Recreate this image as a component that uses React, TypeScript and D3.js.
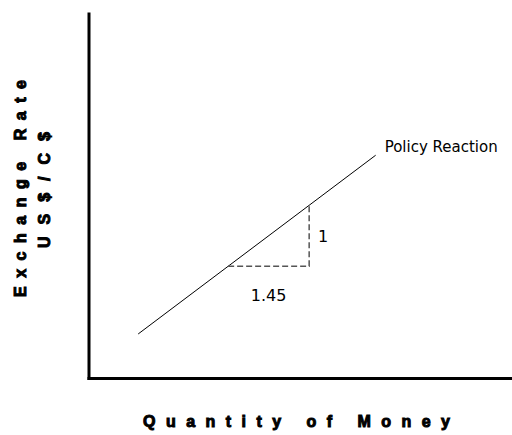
import React from "react";
import * as d3 from "d3";

// Data (in model units: slope of policy reaction = 1 / 1.45)
const xDomain = [0, 7.57];
const yDomain = [0, 6];
const policyX = [0.88, 5.13];
const policyY = [0.73, 3.66];
const triX = [2.49, 3.94]; // run of 1.45
const triY = [1.84, 2.84]; // rise of 1
const runLabel = "1.45";
const riseLabel = "1";
const lineLabel = "Policy Reaction";
const xTitle = "Quantity of Money";
const yTitle1 = "Exchange Rate";
const yTitle2 = "US$/C$";

const W = 512;
const H = 435;

export default function App() {
  const x = d3.scaleLinear().domain(xDomain).range([89, 512]);
  const y = d3.scaleLinear().domain(yDomain).range([378.5, 12.5]);
  const line = d3
    .line<[number, number]>()
    .x((d) => x(d[0]))
    .y((d) => y(d[1]));
  const policyPts: [number, number][] = policyX.map((v, i) => [v, policyY[i]]);
  const triPts: [number, number][] = [
    [triX[0], triY[0]],
    [triX[1], triY[0]],
    [triX[1], triY[1]],
  ];
  const [x0, x1] = x.range();
  const [y0, y1] = y.range();
  const sans = "'DejaVu Sans', sans-serif";
  const bold = "'Liberation Sans', Arial, sans-serif";
  const titleProps = {
    fontFamily: bold,
    fontWeight: "bold" as const,
    fontSize: 16,
    fill: "#000",
    stroke: "#000",
    strokeWidth: 1,
    lengthAdjust: "spacing",
  };
  return (
    <svg
      width={W}
      height={H}
      style={{ position: "absolute", left: 0, top: 0, background: "#fff" }}
    >
      {/* axes */}
      <line x1={x0} y1={y1} x2={x0} y2={y0 + 1.5} stroke="#000" strokeWidth={3} />
      <line x1={x0 - 1.5} y1={y0} x2={x1} y2={y0} stroke="#000" strokeWidth={3} />
      {/* policy reaction line */}
      <path d={line(policyPts) || ""} fill="none" stroke="#000" strokeWidth={1} />
      {/* slope triangle */}
      <path
        d={line(triPts) || ""}
        fill="none"
        stroke="#555"
        strokeWidth={1.5}
        strokeDasharray="6,3"
      />
      <text
        x={x(policyX[1]) + 9}
        y={y(policyY[1]) - 3}
        fontFamily={sans}
        fontSize={15}
        fill="#000"
      >
        {lineLabel}
      </text>
      <text
        x={(x(triX[0]) + x(triX[1])) / 2}
        y={y(triY[0]) + 35}
        fontFamily={sans}
        fontSize={16}
        textAnchor="middle"
        fill="#000"
      >
        {runLabel}
      </text>
      <text
        x={x(triX[1]) + 14}
        y={(y(triY[0]) + y(triY[1])) / 2 + 6}
        fontFamily={sans}
        fontSize={16}
        textAnchor="middle"
        fill="#000"
      >
        {riseLabel}
      </text>
      {/* axis titles */}
      <text x={143} y={427} textLength={307} {...titleProps}>
        {xTitle}
      </text>
      <text
        transform="translate(26,297) rotate(-90)"
        textLength={217}
        {...titleProps}
      >
        {yTitle1}
      </text>
      <text
        transform="translate(50,248) rotate(-90)"
        textLength={116}
        {...titleProps}
      >
        {yTitle2}
      </text>
    </svg>
  );
}
